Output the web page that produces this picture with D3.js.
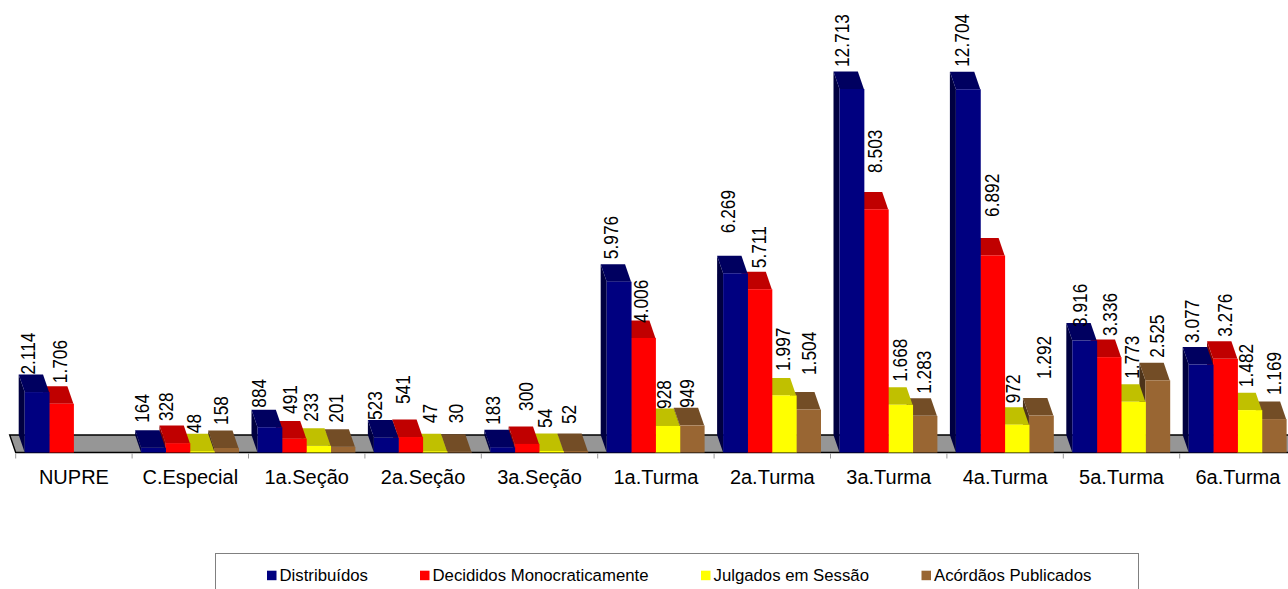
<!DOCTYPE html>
<html><head><meta charset="utf-8">
<script src="https://cdn.jsdelivr.net/npm/d3@7"></script>
<style>html,body{margin:0;padding:0;background:#fff;overflow:hidden}svg{display:block}text{font-family:"Liberation Sans",Arial,sans-serif;fill:#000}</style>
</head><body><svg id="c" width="1288" height="589"></svg>
<script>
const categories=["NUPRE","C.Especial","1a.Seção","2a.Seção","3a.Seção","1a.Turma","2a.Turma","3a.Turma","4a.Turma","5a.Turma","6a.Turma"];
const seriesNames=["Distribuídos","Decididos Monocraticamente","Julgados em Sessão","Acórdãos Publicados"];
const distribuidos=[2114,164,884,523,183,5976,6269,12713,12704,3916,3077];
const decididos=[1706,328,491,541,300,4006,5711,8503,6892,3336,3276];
const julgados=[null,48,233,47,54,928,1997,1668,972,1773,1482];
const acordaos=[null,158,201,30,52,949,1504,1283,1292,2525,1169];
const seriesValues=[distribuidos,decididos,julgados,acordaos];
const frontColors=["#000080","#ff0000","#ffff00","#996633"];
const topColors=["#000060","#c00000","#c0c000","#734d26"];
const sideColors=["#000040","#800000","#808000","#4d331a"];
// hand-placed data labels of the original: sideways shift and gap above the bar
const labelDx=[
 [3,1,1.5,1,3,4,5,2,6,8,3],
 [11,.5,8,5,11,10,11.5,11,12,13,12],
 [0,4,5,7.5,6,8.5,11,12,8.5,11,8.5],
 [0,7,5.5,9,5.5,7,13,11.5,15,11.5,12]];
const labelGap=[
 [0,7.5,2,0,5,5,22.5,4.5,5,-4,4],
 [3,4.5,7,15.5,15.5,-2.5,3.5,19,21,3.5,4.5],
 [0,.5,6.5,10.5,5.5,-.5,7,5.5,4,5.5,5.5],
 [0,5.5,6.5,11,9.5,0,17,4.5,19,5,6.5]];
const legendSwatchX=[267,420,701,921.5];

const W=1288,H=589,baseY=452.5,depthX=-6,depthY=-17.5;
const svg=d3.select("#c");
const x=d3.scaleBand().domain(categories).range([15.7,15.7+116.4*categories.length]);
const inner=d3.scaleBand().domain(d3.range(4)).range([9,106.4]);
const y=d3.scaleLinear().domain([0,12713]).range([baseY,89]);

// floor
const right=W+20;
svg.append("path").attr("d",d3.line()([[x.range()[0]+depthX,baseY+depthY],[right,baseY+depthY],[right,baseY],[x.range()[0],baseY]])+"Z")
  .attr("fill","#969696");
svg.append("path").attr("d",d3.line()([[right,baseY+depthY],[x.range()[0]+depthX,baseY+depthY],[x.range()[0],baseY],[right,baseY]]))
  .attr("fill","none").attr("stroke","#000").attr("stroke-width",1.4);

// axis
const axis=svg.append("g").attr("transform",`translate(0,${baseY})`).call(d3.axisBottom(x).tickSize(0).tickPadding(17.5));
axis.select(".domain").remove();
axis.selectAll("text").attr("font-size",20).attr("font-family",'"Liberation Sans",Arial,sans-serif').attr("fill","#000");
svg.append("g").selectAll("line").data(categories).join("line")
  .attr("x1",d=>x(d)).attr("x2",d=>x(d)).attr("y1",baseY+1).attr("y2",baseY+6).attr("stroke","#999");

// bars, drawn right to left so each bar covers the side face of its neighbour
const bars=[];
categories.forEach((c,i)=>seriesValues.forEach((s,k)=>{if(s[i]!=null)bars.push({c,i,k,v:s[i]})}));
const g=svg.append("g");
const bw=inner.bandwidth();
const poly=p=>d3.line()(p)+"Z";
const bar=g.selectAll("g").data(bars.slice().reverse()).join("g");
bar.append("path").attr("fill",d=>sideColors[d.k]).attr("d",d=>{const l=x(d.c)+inner(d.k),t=y(d.v);
  return poly([[l,t],[l+depthX,t+depthY],[l+depthX,baseY+depthY],[l,baseY]])});
bar.append("path").attr("fill",d=>topColors[d.k]).attr("d",d=>{const l=x(d.c)+inner(d.k),t=y(d.v);
  return poly([[l,t],[l+depthX,t+depthY],[l+depthX+bw,t+depthY],[l+bw,t]])});
bar.append("rect").attr("fill",d=>frontColors[d.k])
  .attr("x",d=>x(d.c)+inner(d.k)).attr("width",bw+.5)
  .attr("y",d=>y(d.v)).attr("height",d=>baseY-y(d.v));

// data labels
const fmt=d3.format(",");
svg.append("g").selectAll("text").data(bars).join("text")
  .attr("transform",d=>`translate(${x(d.c)+inner(d.k)+labelDx[d.k][d.i]+7},${y(d.v)+depthY-labelGap[d.k][d.i]}) rotate(-90) scale(1,1.12)`)
  .attr("font-size",17.3)
  .text(d=>fmt(d.v).replace(/,/g,"."));

// legend
svg.append("rect").attr("x",215.5).attr("y",553.5).attr("width",923).attr("height",50).attr("fill","#fff").attr("stroke","#808080").attr("stroke-width",1);
const lg=svg.append("g").selectAll("g").data(seriesNames).join("g");
lg.append("rect").attr("x",(d,i)=>legendSwatchX[i]).attr("y",570.7).attr("width",9.5).attr("height",9.5).attr("fill",(d,i)=>frontColors[i]);
lg.append("text").attr("x",(d,i)=>legendSwatchX[i]+12.5).attr("y",581).attr("font-size",16.75).text(d=>d);
</script></body></html>
